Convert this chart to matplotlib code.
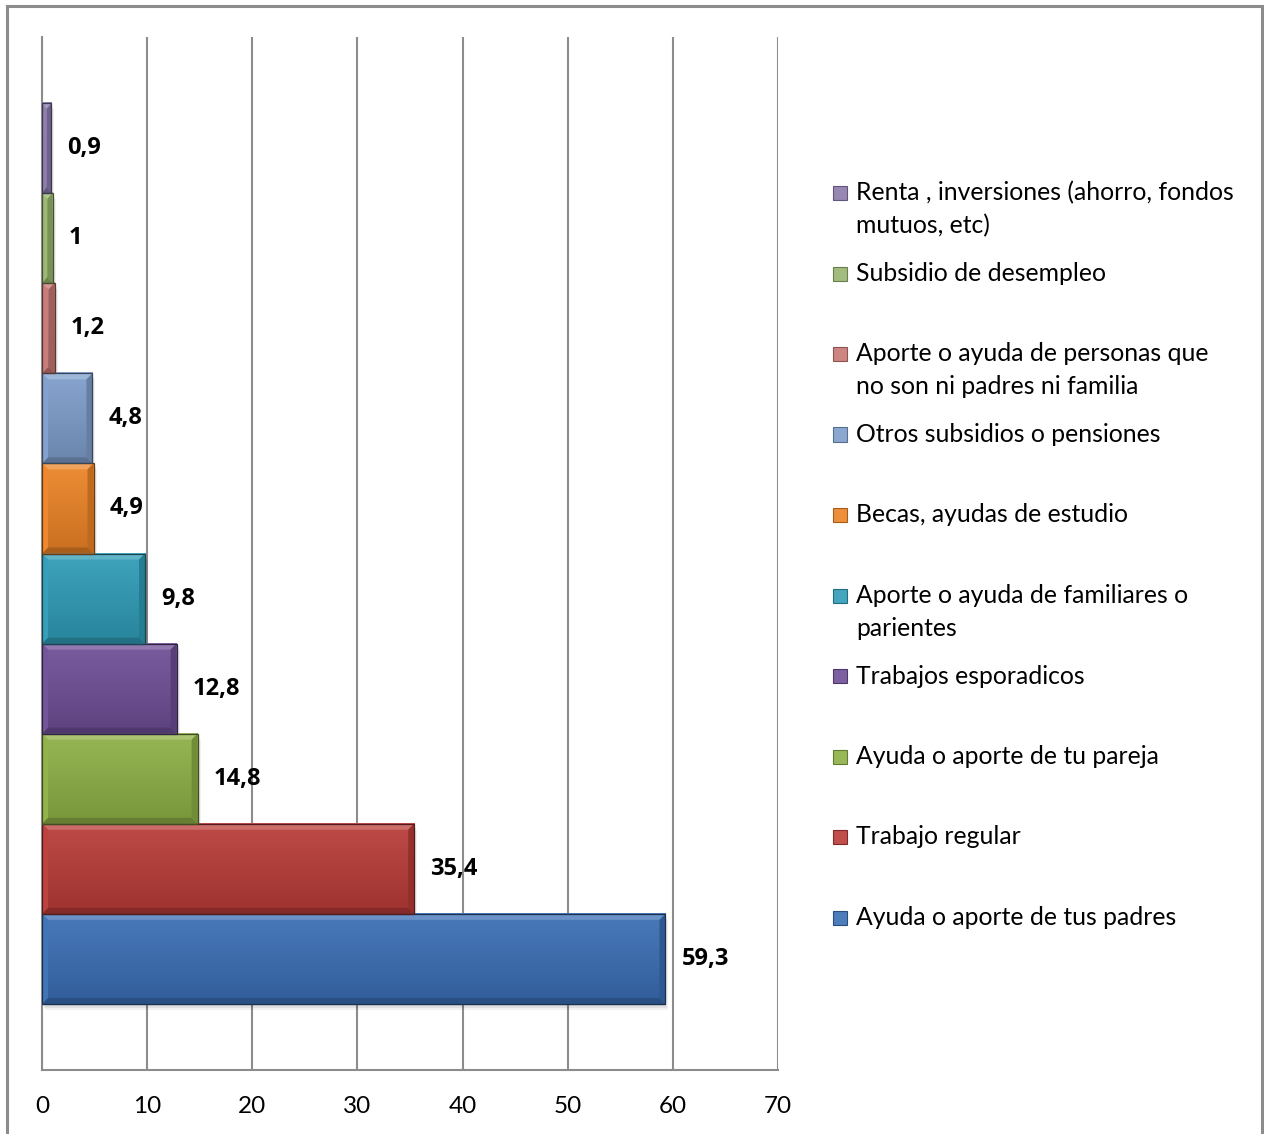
import numpy as np
import matplotlib.pyplot as plt
from matplotlib.patches import Polygon, Rectangle
from matplotlib.lines import Line2D
from matplotlib.colors import to_rgb

plt.rcParams['font.family'] = ['Lato', 'DejaVu Sans']

# Fuentes de ingreso (de abajo hacia arriba en el grafico)
categorias = [
    'Ayuda o aporte de tus padres',
    'Trabajo regular',
    'Ayuda o aporte de tu pareja',
    'Trabajos esporadicos',
    'Aporte o ayuda de familiares o\nparientes',
    'Becas, ayudas de estudio',
    'Otros subsidios o pensiones',
    'Aporte o ayuda de personas que\nno son ni padres ni familia',
    'Subsidio de desempleo',
    'Renta , inversiones (ahorro, fondos\nmutuos, etc)',
]
valores = [59.3, 35.4, 14.8, 12.8, 9.8, 4.9, 4.8, 1.2, 1.0, 0.9]
etiquetas = ['59,3', '35,4', '14,8', '12,8', '9,8', '4,9', '4,8', '1,2', '1', '0,9']
colores = ['#3A6EB5', '#B93B37', '#8DB045', '#6E4E96', '#2E9CB7',
           '#EC8325', '#7E9DCB', '#C77774', '#97B56E', '#8A7AAB']
ticks_x = [0, 10, 20, 30, 40, 50, 60, 70]

W, H = 1264, 1134
fig = plt.figure(figsize=(W / 100, H / 100), dpi=100)

# marco exterior
for xs, ys in [([7, 7], [1134, 6]), ([7, 1262], [6, 6]), ([1262, 1262], [6, 1134])]:
    fig.add_artist(Line2D([x / W for x in xs], [1 - y / H for y in ys],
                          color='#8C8C8C', lw=2.2))

ax_l, ax_r, ax_t, ax_b = 42, 778, 37, 1070
ax = fig.add_axes([ax_l / W, 1 - ax_b / H, (ax_r - ax_l) / W, (ax_b - ax_t) / H])

n = len(valores)
hueco = 0.733
ax.set_xlim(0, 70)
ax.set_ylim(-0.5 - hueco, n - 0.5 + hueco)

# unidades de datos por pixel
ux = 70 / (ax_r - ax_l)
uy = (n - 1 + 2 * hueco + 1) / (ax_b - ax_t)


def mezcla(c, otro, t):
    c = np.array(to_rgb(c))
    return tuple(c * (1 - t) + np.array(otro) * t)


for i, (v, c) in enumerate(zip(valores, colores)):
    y0, y1 = i - 0.5, i + 0.5
    # sombra suave
    for k, a in zip([6, 4, 2], [0.05, 0.07, 0.09]):
        ax.add_patch(Rectangle((k * 0.5 * ux, y0 - k * uy), v, 1.0, color='black',
                               alpha=a, lw=0, zorder=2))
    # degradado vertical
    grad = np.linspace(0, 1, 64)[:, None]
    top_c = np.array(mezcla(c, (1, 1, 1), 0.08))
    bot_c = np.array(mezcla(c, (0, 0, 0), 0.15))
    img = top_c * (1 - grad[..., None]) + bot_c * grad[..., None]
    ax.imshow(img, extent=(0, v, y0, y1), origin='upper', aspect='auto',
              zorder=3, interpolation='bilinear')
    # biselado
    bx = min(6 * ux, v / 2)
    by = 6 * uy
    ax.add_patch(Polygon([(0, y1), (v, y1), (v - bx, y1 - by), (bx, y1 - by)],
                         closed=True, color=mezcla(c, (1, 1, 1), 0.25), lw=0, zorder=4))
    ax.add_patch(Polygon([(0, y0), (v, y0), (v - bx, y0 + by), (bx, y0 + by)],
                         closed=True, color=mezcla(c, (0, 0, 0), 0.28), lw=0, zorder=4))
    ax.add_patch(Polygon([(v, y0), (v, y1), (v - bx, y1 - by), (v - bx, y0 + by)],
                         closed=True, color=mezcla(c, (0, 0, 0), 0.2), lw=0, zorder=4))
    ax.add_patch(Polygon([(0, y0), (0, y1), (bx, y1 - by), (bx, y0 + by)],
                         closed=True, color=mezcla(c, (1, 1, 1), 0.04), lw=0, zorder=4))
    ax.add_patch(Rectangle((0, y0), v, 1.0, fill=False,
                           ec=mezcla(c, (0, 0, 0), 0.55), lw=0.9, zorder=5))
    ax.text(v + 16 * ux, i, etiquetas[i], ha='left', va='center',
            fontsize=17, fontweight='bold', color='black', zorder=6,
            family=['Open Sans', 'DejaVu Sans'])

ax.set_xticks(ticks_x)
ax.set_yticks([])
ax.grid(axis='x', color='#8C8C8C', lw=1.5, zorder=0)
ax.tick_params(axis='x', length=0, pad=19, labelsize=17.5)
for s in ['top', 'right']:
    ax.spines[s].set_visible(False)
for s in ['left', 'bottom']:
    ax.spines[s].set_color('#8C8C8C')
    ax.spines[s].set_linewidth(1.5)

# leyenda
ley_y0 = 193
paso = 80.5
for j in range(n):
    idx = n - 1 - j
    py = ley_y0 + j * paso
    c = colores[idx]
    fig.add_artist(Rectangle((833 / W, 1 - (py + 7) / H), 14 / W, 14 / H,
                             transform=fig.transFigure,
                             fc=mezcla(c, (1, 1, 1), 0.1),
                             ec=mezcla(c, (0, 0, 0), 0.3), lw=0.8))
    for k, linea in enumerate(categorias[idx].split('\n')):
        fig.text(856 / W, 1 - (py + k * 33) / H, linea, ha='left', va='center',
                 fontsize=17.8, color='black')

fig.savefig('out.png', dpi=100)
